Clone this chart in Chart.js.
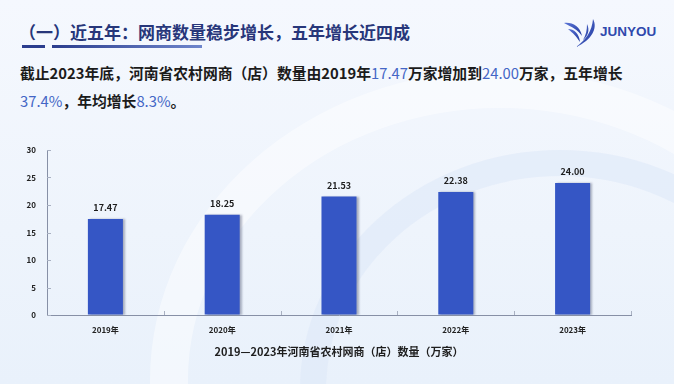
<!DOCTYPE html>
<html>
<head>
<meta charset="utf-8">
<script src="https://cdn.jsdelivr.net/npm/chart.js@4.4.1/dist/chart.umd.min.js"></script>
<style>
  html, body { margin:0; padding:0; }
  body {
    width:674px; height:384px; overflow:hidden; position:relative;
    background: linear-gradient(180deg, #f5f8fe 0%, #eef4fc 60%, #e9f1fb 100%);
    font-family: "Noto Sans CJK SC", "Noto Sans", sans-serif;
  }
  .arc { position:absolute; border-radius:50%; pointer-events:none; }
  #title {
    position:absolute; left:19px; top:19px; font-size:17px; font-weight:bold;
    color:#27367a; white-space:nowrap; letter-spacing:0px; line-height:26px;
  }
  .ul1 { position:absolute; left:22px; top:45px; width:23px; height:3px; background:#2b3d8e; }
  .ul2 { position:absolute; left:52px; top:45px; width:150px; height:3px;
         background: linear-gradient(90deg, #2b3d8e 0%, #6f86cc 100%); }
  #logo { position:absolute; left:562px; top:18px; }
  #logotext { position:absolute; left:600px; top:24px; font-family: "Liberation Sans", Arial, sans-serif;
    font-weight:bold; font-size:13.5px; color:#2f48ad; letter-spacing:0px; }
  .sub {
    position:absolute; left:20px; font-size:14.8px; font-weight:bold; color:#1b1b1b; white-space:nowrap;
    line-height:22px;
  }
  .sub .n { color:#4466c6; font-weight:normal; }
  #wrap { position:absolute; left:0; top:130px; width:674px; height:240px; }
</style>
</head>
<body>
<div class="arc" style="left:150px; top:70px; width:700px; height:620px; border:38px solid rgba(255,255,255,0.45); box-sizing:border-box;"></div>
<div class="arc" style="left:300px; top:150px; width:520px; height:480px; border:26px solid rgba(220,232,248,0.55); box-sizing:border-box;"></div>

<div id="title">（一）近五年：网商数量稳步增长，五年增长近四成</div>
<div class="ul1"></div><div class="ul2"></div>

<svg id="logo" width="40" height="30" viewBox="0 0 40 30">
  <defs>
    <linearGradient id="lg" x1="0" y1="0" x2="1" y2="1">
      <stop offset="0" stop-color="#5a74d6"/>
      <stop offset="1" stop-color="#223a9e"/>
    </linearGradient>
  </defs>
  <path d="M2 5 C10 4 18 8 20 18 C16 12 10 9 2 5 Z" fill="url(#lg)"/>
  <path d="M6 11 C12 11 17 15 18 24 C14 18 11 15 6 11 Z" fill="url(#lg)"/>
  <path d="M31 1 C36 10 30 22 14 29 C24 22 30 13 31 1 Z" fill="url(#lg)"/>
  <path d="M25 6 C28 12 26 18 21 22 C24 17 25 12 25 6 Z" fill="url(#lg)"/>
</svg>
<div id="logotext">JUNYOU</div>

<div class="sub" style="top:62px;">截止2023年底，河南省农村网商（店）数量由2019年<span class="n">17.47</span>万家增加到<span class="n">24.00</span>万家，五年增长</div>
<div class="sub" style="top:90px;"><span class="n">37.4%</span>，年均增长<span class="n">8.3%</span>。</div>

<div id="wrap"><canvas id="c" width="674" height="240"></canvas></div>

<script>
const categories = ["2019年", "2020年", "2021年", "2022年", "2023年"];
const values = [17.47, 18.25, 21.53, 22.38, 24.00];
const yTicks = [0, 5, 10, 15, 20, 25, 30];
const axisTitle = "2019—2023年河南省农村网商（店）数量（万家）";

const FONT = '"Noto Sans CJK SC", "Noto Sans", sans-serif';

const decor = {
  id: 'decor',
  beforeDatasetsDraw(chart) {
    const ctx = chart.ctx;
    ctx.save();
    ctx.shadowColor = 'rgba(40,50,80,0.35)';
    ctx.shadowOffsetX = 2;
    ctx.shadowOffsetY = 0;
    ctx.shadowBlur = 2;
  },
  afterDatasetsDraw(chart) {
    const ctx = chart.ctx;
    ctx.restore();
    const x = chart.scales.x, y = chart.scales.y;
    ctx.save();
    ctx.strokeStyle = '#a9b1c2';
    ctx.lineWidth = 1;
    yTicks.forEach(v => {
      const py = Math.round(y.getPixelForValue(v)) + 0.5;
      ctx.beginPath(); ctx.moveTo(x.left, py); ctx.lineTo(x.left + 4, py); ctx.stroke();
    });
    const n = categories.length;
    for (let i = 1; i <= n; i++) {
      const px = Math.round(x.left + i * (x.right - x.left) / n) + 0.5;
      ctx.beginPath(); ctx.moveTo(px, y.bottom); ctx.lineTo(px, y.bottom - 4); ctx.stroke();
    }
    ctx.restore();
    ctx.save();
    ctx.font = 'bold 9px ' + FONT;
    ctx.fillStyle = '#1e1e1e';
    ctx.textAlign = 'center';
    ctx.textBaseline = 'middle';
    chart.getDatasetMeta(0).data.forEach((bar, i) => {
      ctx.fillText(values[i].toFixed(2), bar.x, bar.y - 11);
    });
    ctx.restore();
  }
};

new Chart(document.getElementById('c'), {
  type: 'bar',
  data: {
    labels: categories,
    datasets: [{
      data: values,
      backgroundColor: '#3556c5',
      borderWidth: 0,
      barPercentage: 0.3,
      categoryPercentage: 1.0
    }]
  },
  options: {
    responsive: false,
    devicePixelRatio: 1,
    animation: false,
    layout: { padding: { left: 0, right: 43, top: 20, bottom: 0 } },
    plugins: { legend: { display: false }, tooltip: { enabled: false } },
    scales: {
      x: {
        grid: { display: true, drawOnChartArea: false, drawTicks: false, color: 'rgba(0,0,0,0)' },
        border: { display: true, color: '#8790a6', width: 1 },
        ticks: { font: { family: FONT, size: 8, weight: 'bold' }, color: '#222', padding: 10, maxRotation: 0 },
        title: { display: true, text: axisTitle, font: { family: FONT, size: 11, weight: 'bold' }, color: '#1e1e1e', padding: { top: 0, bottom: 12 } },
        afterFit(s) { s.height = 55; }
      },
      y: {
        min: 0, max: 30,
        afterBuildTicks(s) { s.ticks = yTicks.map(v => ({ value: v })); },
        grid: { display: true, drawOnChartArea: false, drawTicks: false, color: 'rgba(0,0,0,0)' },
        border: { display: true, color: '#8790a6', width: 1 },
        ticks: { font: { family: FONT, size: 8, weight: 'bold' }, color: '#222', padding: 11 },
        afterFit(s) { s.width = 47; }
      }
    }
  },
  plugins: [decor]
});
</script>
</body>
</html>
